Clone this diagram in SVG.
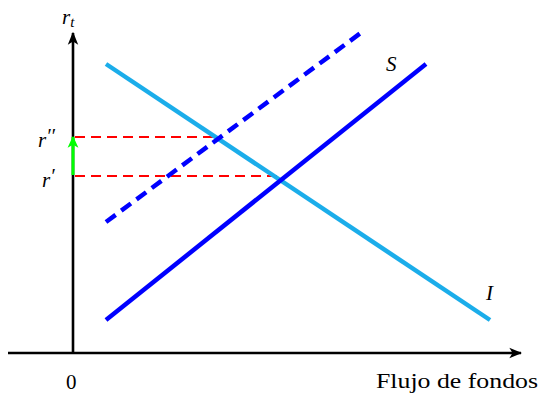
<svg xmlns="http://www.w3.org/2000/svg" width="542" height="394" viewBox="0 0 542 394">
<style>
.ax{stroke:#000;stroke-width:2.6;fill:none}
.t{font-family:"Liberation Serif","DejaVu Serif",serif;font-size:21px;fill:#000}
.it{font-style:italic}
.red{stroke:#ff0000;stroke-width:2;stroke-dasharray:10,6;fill:none}
</style>
<defs>
<marker id="ah" viewBox="0 0 10 10" refX="9" refY="5" markerWidth="5" markerHeight="5" markerUnits="strokeWidth" orient="auto"><path d="M0,1 L10,5 L0,9 L2.5,5 Z" fill="#000"/></marker>
<marker id="gh" viewBox="0 0 10 10" refX="9" refY="5" markerWidth="4" markerHeight="4" markerUnits="strokeWidth" orient="auto"><path d="M0,0.5 L10,5 L0,9.5 L2.5,5 Z" fill="#00ff00"/></marker>
</defs>
<g id="axes">
<line class="ax" x1="8" y1="353" x2="521" y2="353" marker-end="url(#ah)"/>
<line class="ax" x1="73" y1="353" x2="73" y2="33" marker-end="url(#ah)"/>
</g>
<g id="connectors">
<line class="red" x1="75" y1="137" x2="218" y2="137"/>
<line class="red" x1="75" y1="176" x2="282" y2="176"/>
<line x1="73" y1="175" x2="73" y2="137" stroke="#00ff00" stroke-width="3" marker-end="url(#gh)"/>
</g>
<g id="I">
<line x1="106" y1="64" x2="490" y2="320" stroke="#1badea" stroke-width="4.5"/>
<text class="t it" x="486" y="300">I</text>
</g>
<g id="S">
<line x1="106" y1="320" x2="426" y2="64" stroke="#0000ff" stroke-width="4.5"/>
<text class="t it" x="386" y="71">S</text>
</g>
<g id="S2">
<line x1="106" y1="222" x2="362" y2="32" stroke="#0000ff" stroke-width="4.5" stroke-dasharray="12,7"/>
</g>
<g id="labels">
<text class="t it" x="62" y="24">r<tspan font-size="15" dy="3">t</tspan></text>
<text class="t it" x="38" y="147">r<tspan font-size="20" dy="-4">′′</tspan></text>
<text class="t it" x="42" y="187">r<tspan font-size="20" dy="-4">′</tspan></text>
<text class="t" x="66" y="389">0</text>
<text class="t" x="376" y="388" textLength="162" lengthAdjust="spacingAndGlyphs">Flujo de fondos</text>
</g>
</svg>
